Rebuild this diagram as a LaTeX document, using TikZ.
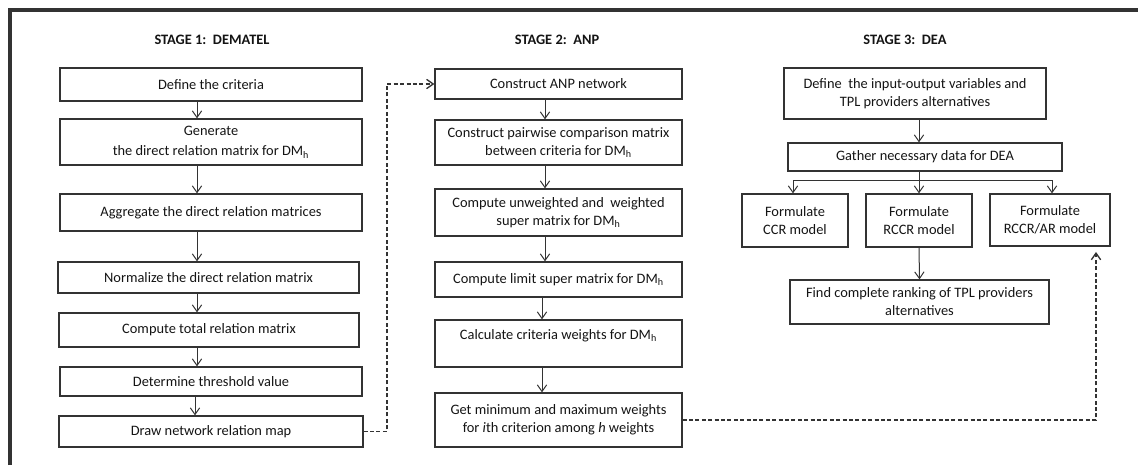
\documentclass[tikz,border=0pt]{standalone}
\usepackage{fontspec}
\setmainfont{Carlito}
\usetikzlibrary{arrows.meta,calc}
\definecolor{ln}{HTML}{333333}
\definecolor{tx}{HTML}{141414}
\begin{document}
\begin{tikzpicture}[x=0.75pt,y=-0.75pt,
  box/.style={draw=ln, line width=0.95pt, align=center, inner sep=1pt, text=tx,
    font=\fontsize{10.8}{13.5}\selectfont},
  ttl/.style={font=\fontsize{10.8}{13}\selectfont\bfseries, text=tx},
  arr/.style={draw=ln, line width=0.75pt, -{Straight Barb[length=5pt,width=7pt]}},
  dsh/.style={draw=ln, line width=1pt, dash pattern=on 3pt off 1.8pt, -{Straight Barb[length=5pt,width=7pt]}},
  frame/.style={draw=ln, line width=2.6pt, line join=miter}]
\useasboundingbox (0,0) rectangle (1138,465);
\draw[frame] (10,465) -- (10,10) -- (1138,10);

% titles
\node[ttl] (t1) at (212,40) {STAGE 1:\ \ DEMATEL};
\node[ttl] (t2) at (557,40) {STAGE 2:\ \ ANP};
\node[ttl] (t3) at (905,40) {STAGE 3:\ \ DEA};

% stage 1
\node[box, minimum width=226.5pt, minimum height=24.75pt] (b1) at (211,84.5) {Define the criteria};
\node[box, minimum width=226.5pt, minimum height=34.5pt] (b2) at (211,142) {Generate\\[2pt] the direct relation matrix for DM\textsubscript{h}};
\node[box, minimum width=226.5pt, minimum height=27.75pt] (b3) at (211,212.5) {Aggregate the direct relation matrices};
\node[box, minimum width=225.75pt, minimum height=23.25pt] (b4) at (208.5,277.5) {Normalize the direct relation matrix};
\node[box, minimum width=225pt, minimum height=25.5pt] (b5) at (209,330) {Compute total relation matrix};
\node[box, minimum width=226.5pt, minimum height=21.75pt] (b6) at (211,381.5) {Determine threshold value};
\node[box, minimum width=228pt, minimum height=23.25pt] (b7) at (211,431.5) {Draw network relation map};

\coordinate (ax1) at (197,0);
\draw[arr] (b1.south -| ax1) -- (b2.north -| ax1);
\draw[arr] (b2.south -| ax1) -- (b3.north -| ax1);
\draw[arr] (b3.south -| ax1) -- (b4.north -| ax1);
\draw[arr] (b4.south -| ax1) -- (b5.north -| ax1);
\draw[arr] (b5.south -| ax1) -- (b6.north -| ax1);
\coordinate (ax1b) at (195,0);
\draw[arr] (b6.south -| ax1b) -- (b7.north -| ax1b);

% stage 2
\node[box, minimum width=185.25pt, minimum height=22.5pt] (c1) at (558.5,84) {Construct ANP network};
\node[box, minimum width=185.25pt, minimum height=33.75pt] (c2) at (558.5,142.5) {Construct pairwise comparison matrix\\ between criteria for DM\textsubscript{h}};
\node[box, minimum width=185.25pt, minimum height=35.25pt] (c3) at (558.5,212.5) {Compute unweighted and\ \ weighted\\ super matrix for DM\textsubscript{h}};
\node[box, minimum width=185.25pt, minimum height=26.25pt] (c4) at (558.5,279.5) {Compute limit super matrix for DM\textsubscript{h}};
\node[box, minimum width=185.25pt, minimum height=35.25pt] (c5) at (558.5,343.5) {Calculate criteria weights for DM\textsubscript{h}\\ \mbox{}};
\node[box, minimum width=185.25pt, minimum height=40.5pt] (c6) at (558.5,420) {Get minimum and maximum weights\\ for \textit{i}th criterion among \textit{h} weights};

\coordinate (ax2) at (545,0);
\coordinate (ax2b) at (542,0);
\draw[arr] (c1.south -| ax2) -- (c2.north -| ax2);
\draw[arr] (c2.south -| ax2) -- (c3.north -| ax2);
\draw[arr] (c3.south -| ax2) -- (c4.north -| ax2);
\draw[arr] (c4.south -| ax2b) -- (c5.north -| ax2b);
\draw[arr] (c5.south -| ax2b) -- (c6.north -| ax2b);

% stage 3
\node[box, minimum width=196.5pt, minimum height=38.25pt] (d1) at (915,93.5) {Define\ \ the input-output variables and\\ TPL providers alternatives};
\node[box, minimum width=205.5pt, minimum height=21pt] (d2) at (925,157) {Gather necessary data for DEA};
\node[box, minimum width=79.5pt, minimum height=39.75pt] (e1) at (795,220.5) {Formulate\\ CCR model};
\node[box, minimum width=79.5pt, minimum height=39.75pt] (e2) at (919,220.5) {Formulate\\ RCCR model};
\node[box, minimum width=90pt, minimum height=39pt] (e3) at (1050,220) {Formulate\\ RCCR/AR model};
\node[box, minimum width=194.25pt, minimum height=33pt] (f1) at (919.5,302) {Find complete ranking of TPL providers\\ alternatives};

\coordinate (ax3) at (919,0);
\coordinate (br) at (919,180);
\coordinate (brl) at (793,180);
\coordinate (brr) at (1052,180);
\draw[arr] (d1.south -| ax3) -- (d2.north -| ax3);
\draw[draw=ln, line width=0.75pt] (d2.south -| ax3) -- (br);
\draw[draw=ln, line width=0.75pt] (brl) -- (brr);
\draw[arr] (brl) -- (brl |- e1.north);
\draw[arr] (br) -- (br |- e2.north);
\draw[arr] (brr) -- (brr |- e3.north);
\draw[arr] (e2.south) -- (f1.north);

% dashed connectors
\coordinate (dA) at (387,0);
\draw[dsh] (b7.east) -| (dA |- c1.west) -- (c1.west);
\coordinate (dB) at (1096,0);
\draw[dsh, shorten >=4pt] (c6.east) -| (dB |- e3.south);
\end{tikzpicture}
\end{document}
